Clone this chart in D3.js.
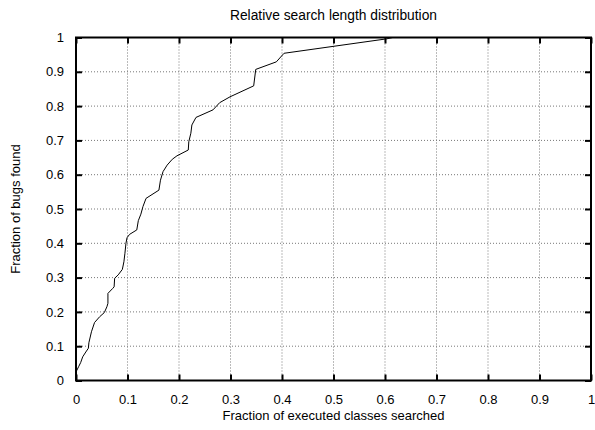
<!DOCTYPE html>
<head>
  <meta charset="utf-8">
  <title>Relative search length distribution</title>
  <style>
      body { margin: 0; background: #fff; }
      text { font-family: "Liberation Sans", Arial, Helvetica, sans-serif; fill: #000; }
  </style>
  <script src="https://d3js.org/d3.v7.js"></script>
</head>
<body>
<div id="chart"></div>
<script>
    // fraction of executed classes searched vs fraction of bugs found
    const xFrac = [0, 0.005, 0.009, 0.013, 0.019, 0.024, 0.025, 0.030, 0.036, 0.046, 0.055, 0.060,
        0.062, 0.062, 0.071, 0.074, 0.075, 0.082, 0.090, 0.093, 0.095, 0.097, 0.099, 0.104,
        0.118, 0.121, 0.126, 0.130, 0.136, 0.161, 0.164, 0.169, 0.177, 0.187, 0.196, 0.218,
        0.219, 0.223, 0.225, 0.233, 0.266, 0.279, 0.299, 0.345, 0.349, 0.389, 0.404, 0.603, 0.615];
    const yFrac = [0.025, 0.04, 0.052, 0.069, 0.083, 0.094, 0.11, 0.142, 0.169, 0.186, 0.198, 0.215,
        0.225, 0.254, 0.268, 0.273, 0.298, 0.308, 0.324, 0.346, 0.371, 0.40, 0.416, 0.426,
        0.439, 0.466, 0.485, 0.507, 0.531, 0.555, 0.584, 0.609, 0.628, 0.645, 0.655, 0.672,
        0.696, 0.721, 0.745, 0.767, 0.789, 0.81, 0.827, 0.859, 0.907, 0.929, 0.954, 0.996, 1.0];
    const xTicks = [0, 0.1, 0.2, 0.3, 0.4, 0.5, 0.6, 0.7, 0.8, 0.9, 1];
    const yTicks = [0, 0.1, 0.2, 0.3, 0.4, 0.5, 0.6, 0.7, 0.8, 0.9, 1];

    const W = 595, H = 430;
    const margin = {top: 37.5, right: 4, bottom: 49.5, left: 76};
    const width = W - margin.left - margin.right;
    const height = H - margin.top - margin.bottom;

    const svg = d3.select("#chart").append("svg")
        .attr("width", W).attr("height", H);
    const g = svg.append("g")
        .attr("transform", `translate(${margin.left}, ${margin.top})`);

    const x = d3.scaleLinear().domain([0, 1]).range([0, width]);
    const y = d3.scaleLinear().domain([0, 1]).range([height, 0]);
    const fmt = d => d === 0 || d === 1 ? String(d) : d.toFixed(1);

    // grid
    g.append("g").selectAll("line").data(xTicks.slice(1, -1)).join("line")
        .attr("x1", d => x(d)).attr("x2", d => x(d)).attr("y1", 0).attr("y2", height)
        .attr("stroke", "#777").attr("stroke-width", 1).attr("stroke-dasharray", "1,2");
    g.append("g").selectAll("line").data(yTicks.slice(1, -1)).join("line")
        .attr("y1", d => y(d)).attr("y2", d => y(d)).attr("x1", 0).attr("x2", width)
        .attr("stroke", "#777").attr("stroke-width", 1).attr("stroke-dasharray", "1,2");

    // axes, ticks pointing inward on all four sides
    const axBottom = g.append("g").attr("transform", `translate(0, ${height})`)
        .call(d3.axisBottom(x).tickValues(xTicks).tickFormat(fmt).tickSizeInner(-6).tickSizeOuter(0).tickPadding(14));
    const axLeft = g.append("g")
        .call(d3.axisLeft(y).tickValues(yTicks).tickFormat(fmt).tickSizeInner(-6).tickSizeOuter(0).tickPadding(12));
    const axTop = g.append("g")
        .call(d3.axisTop(x).tickValues(xTicks).tickFormat("").tickSizeInner(-6).tickSizeOuter(0));
    const axRight = g.append("g").attr("transform", `translate(${width}, 0)`)
        .call(d3.axisRight(y).tickValues(yTicks).tickFormat("").tickSizeInner(-6).tickSizeOuter(0));
    [axBottom, axLeft, axTop, axRight].forEach(a => {
        a.select(".domain").remove();
        a.selectAll(".tick line").attr("stroke", "#000").attr("stroke-width", 2);
        a.selectAll(".tick text").style("font-size", "13px")
            .style("font-family", "'Liberation Sans', Arial, sans-serif");
    });

    // curve
    const pts = xFrac.map((d, i) => [d, yFrac[i]]);
    g.append("path").datum(pts)
        .attr("fill", "none").attr("stroke", "#000").attr("stroke-width", 1)
        .attr("d", d3.line().x(d => x(d[0])).y(d => y(d[1])));

    // frame
    g.append("rect").attr("x", 0).attr("y", 0).attr("width", width).attr("height", height)
        .attr("fill", "none").attr("stroke", "#000").attr("stroke-width", 2);

    // labels
    svg.append("text").attr("x", margin.left + width / 2).attr("y", 20)
        .attr("text-anchor", "middle").style("font-size", "13.8px")
        .text("Relative search length distribution");
    svg.append("text").attr("x", margin.left + width / 2).attr("y", 420)
        .attr("text-anchor", "middle").style("font-size", "13px")
        .text("Fraction of executed classes searched");
    svg.append("text")
        .attr("transform", `translate(20, ${margin.top + height / 2}) rotate(-90)`)
        .attr("text-anchor", "middle").style("font-size", "13px")
        .text("Fraction of bugs found");
</script>
</body>
